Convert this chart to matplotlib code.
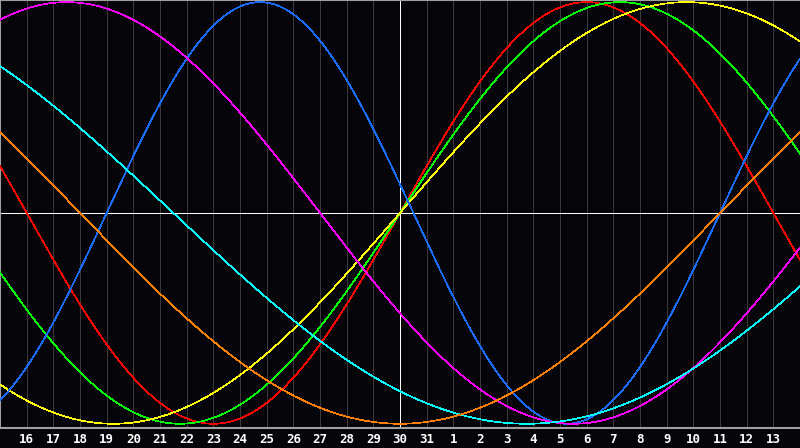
import matplotlib
matplotlib.use("Agg")
import matplotlib.pyplot as plt
import numpy as np

# day offsets from the centre day (the "30") and their labels
tick_days = list(range(-14, 15))
tick_labels = [str(d) for d in range(16, 32)] + [str(d) for d in range(1, 14)]

# cycles: length in days and day of upward zero crossing (relative to centre)
cycle_len = [28, 33, 43, 23, 38, 53, 48]
cycle_zero = [0, 0, 0, 12, 16, 18, 12]
cycle_col = ['#ff0000', '#00ff00', '#ffff00', '#1a6cff', '#ff00ff', '#00ffff', '#ff8000']

bg = '#050408'
px = 0.72  # one pixel line at 100 dpi
fig = plt.figure(figsize=(8, 4.48), dpi=100, facecolor=bg)
ax = fig.add_axes([0, 20 / 448, 1, 428 / 448])
ax.set_facecolor(bg)

# day grid
for d in tick_days:
    if d != 0:
        ax.axvline(d, color='#3a3a3a', lw=px, zorder=1, antialiased=False)
ax.axvline(0, color='white', lw=px, zorder=2, antialiased=False)
ax.axhline(0, color='white', lw=px, zorder=2, antialiased=False)

t = np.linspace(-15, 15, 1200)
for P, z, c in zip(cycle_len, cycle_zero, cycle_col):
    ax.plot(t, np.sin(2 * np.pi * (t - z) / P), color=c, lw=0.5, zorder=3,
            antialiased=False)

ax.set_xlim(-15, 15)
ax.set_ylim(-1.02, 1.01)
ax.set_yticks([])
ax.set_xticks(tick_days)
ax.set_xticklabels(tick_labels, color='white', fontsize=9, fontweight='bold',
                   family='DejaVu Sans Mono')
ax.tick_params(axis='x', length=0, pad=3.5)

for s in ['top', 'left', 'bottom']:
    ax.spines[s].set_color('#a0a0a0')
    ax.spines[s].set_linewidth(1.5)
ax.spines['right'].set_visible(False)

fig.savefig('out.png', dpi=100, facecolor=bg)
